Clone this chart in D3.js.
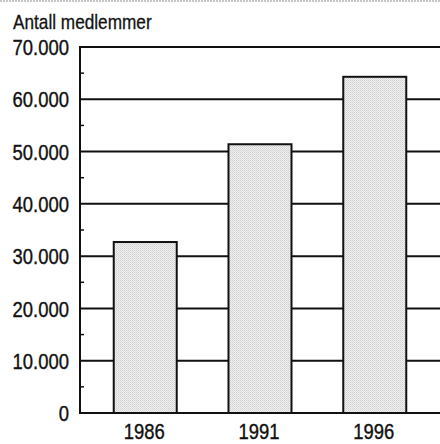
<!DOCTYPE html>
<html>
<head>
<meta charset="utf-8">
<script src="https://cdn.jsdelivr.net/npm/d3@7/dist/d3.min.js"></script>
<style>
  html, body { margin: 0; padding: 0; background: #fff; }
  svg { display: block; }
</style>
</head>
<body>
<script>
const categories = ["1986", "1991", "1996"];
const members = [32700, 51400, 64300];
const yTicks = [0, 10000, 20000, 30000, 40000, 50000, 60000, 70000];
const yTickLabels = ["0", "10.000", "20.000", "30.000", "40.000", "50.000", "60.000", "70.000"];
const minorTicks = [5000, 15000, 25000, 35000, 45000, 55000, 65000];
const yTitle = "Antall medlemmer";

const W = 440, H = 444;
const mLeft = 80, mRight = 440, mTop = 47, mBottom = 413;
const FONT = "'Liberation Sans', Arial, Helvetica, sans-serif";
const SX = 0.82;

const svg = d3.select("body").append("svg").attr("width", W).attr("height", H);

// faint scan edge at top
svg.append("line").attr("x1", 0).attr("x2", W).attr("y1", 1).attr("y2", 1)
  .attr("stroke", "#c8c8c8").attr("stroke-width", 2).attr("stroke-dasharray", "2,1");

const x = d3.scaleBand().domain(categories).range([mLeft, mRight])
  .paddingInner(0.451).paddingOuter(0.294);
const y = d3.scaleLinear().domain([0, 70000]).range([mBottom, mTop]);

// gridlines
svg.append("g").selectAll("line").data(yTicks).join("line")
  .attr("x1", mLeft).attr("x2", mRight)
  .attr("y1", d => y(d)).attr("y2", d => y(d))
  .attr("stroke", "#111").attr("stroke-width", 2);

// y axis line
svg.append("line").attr("x1", mLeft).attr("x2", mLeft)
  .attr("y1", y(70000) - 1).attr("y2", y(0) + 1)
  .attr("stroke", "#111").attr("stroke-width", 2);

// minor ticks
svg.append("g").selectAll("line").data(minorTicks).join("line")
  .attr("x1", mLeft).attr("x2", mLeft + 4)
  .attr("y1", d => y(d)).attr("y2", d => y(d))
  .attr("stroke", "#111").attr("stroke-width", 1.5);

// stipple pattern
const defs = svg.append("defs");
const pat = defs.append("pattern").attr("id", "stip").attr("patternUnits", "userSpaceOnUse")
  .attr("width", 2).attr("height", 2);
pat.append("rect").attr("width", 2).attr("height", 2).attr("fill", "#efefef");
pat.append("rect").attr("width", 1).attr("height", 1).attr("fill", "#d0d0d0");
pat.append("rect").attr("x", 1).attr("y", 1).attr("width", 1).attr("height", 1).attr("fill", "#dcdcdc");

// bars
svg.append("g").selectAll("rect").data(categories).join("rect")
  .attr("x", d => x(d))
  .attr("width", x.bandwidth())
  .attr("y", (d, i) => y(members[i]))
  .attr("height", (d, i) => y(0) - y(members[i]))
  .attr("fill", "url(#stip)")
  .attr("stroke", "#111").attr("stroke-width", 2);

// y tick labels (condensed)
svg.append("g").selectAll("text").data(yTicks).join("text")
  .attr("transform", d => `translate(69,${y(d)}) scale(${SX},1)`)
  .attr("dy", "0.36em")
  .attr("text-anchor", "end")
  .attr("font-family", FONT)
  .attr("font-size", 22.5)
  .attr("fill", "#111")
  .attr("stroke", "#111").attr("stroke-width", 0.4)
  .text((d, i) => yTickLabels[i]);

// x tick labels (condensed)
svg.append("g").selectAll("text").data(categories).join("text")
  .attr("transform", d => `translate(${x(d) + x.bandwidth() / 2 - 1},439) scale(${SX},1)`)
  .attr("text-anchor", "middle")
  .attr("font-family", FONT)
  .attr("font-size", 22.5)
  .attr("fill", "#111")
  .attr("stroke", "#111").attr("stroke-width", 0.4)
  .text(d => d);

// title
svg.append("text")
  .attr("transform", `translate(13,29) scale(${SX},1)`)
  .attr("font-family", FONT)
  .attr("font-size", 21)
  .attr("fill", "#111")
  .attr("stroke", "#111").attr("stroke-width", 0.3)
  .text(yTitle);
</script>
</body>
</html>
